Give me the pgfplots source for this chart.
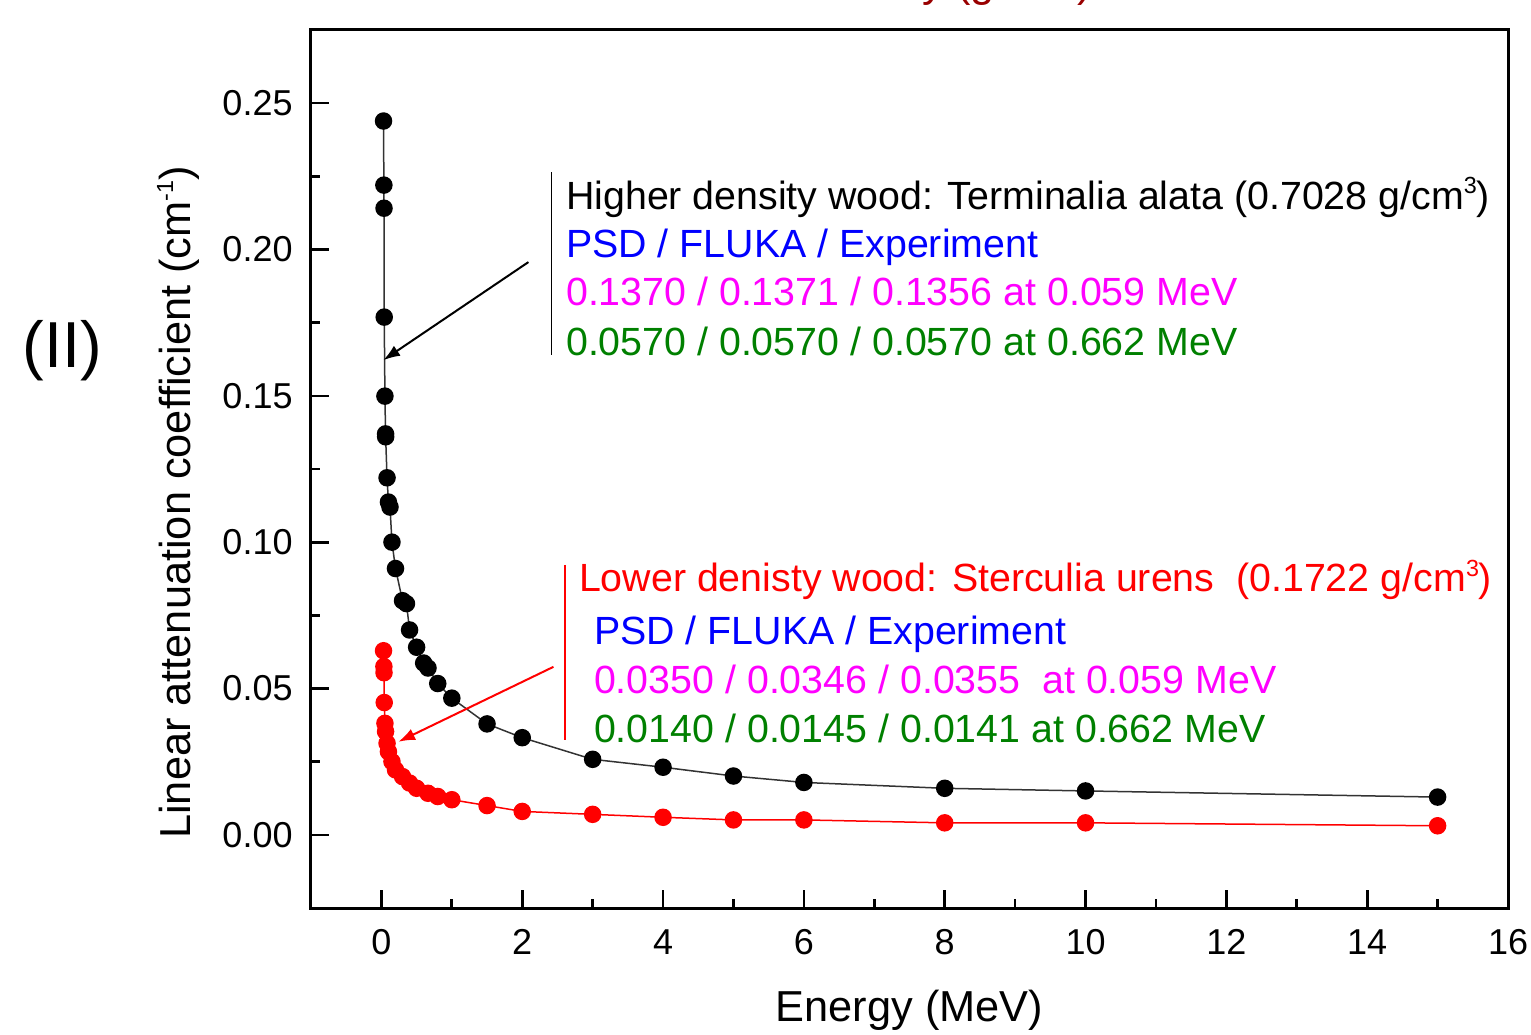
\documentclass[border=0pt]{standalone}
\usepackage{pgfplots}
\pgfplotsset{compat=1.18}
\usetikzlibrary{arrows.meta}
\usepackage{fontspec}
\setmainfont{Liberation Sans}
\definecolor{darkred}{HTML}{990000}
\definecolor{mygreen}{HTML}{008000}
\definecolor{mymagenta}{HTML}{FF00FF}
\definecolor{myblue}{HTML}{0000FF}
\definecolor{myred}{HTML}{FF0000}
\definecolor{linegray}{HTML}{333333}
\newcommand{\sups}[1]{\raisebox{0.75ex}{\fontsize{7}{8}\selectfont #1}}

\begin{document}
\begin{tikzpicture}
\begin{axis}[
  scale only axis, width=359.1pt, height=263.4pt,
  xmin=-1, xmax=16, ymin=-0.025, ymax=0.275,
  xtick={0,2,...,16}, ytick={0,0.05,0.1,0.15,0.2,0.25},
  minor x tick num=1, minor y tick num=1,
  tick align=inside, tick pos=left,
  major tick length=5.4pt, minor tick length=2.7pt,
  axis line style={line width=0.9pt},
  every tick/.style={black, line width=0.8pt},
  /pgf/number format/assume math mode=true,
  ticklabel style={font=\fontsize{10.8}{12}\selectfont},
  yticklabel style={xshift=-2pt, /pgf/number format/.cd, fixed, fixed zerofill, precision=2},
  xticklabel style={yshift=-3pt},
  scaled y ticks=false,
  xlabel={Energy (MeV)},
  ylabel={Linear attenuation coefficient (cm\sups{-1})},
  label style={font=\fontsize{13}{15}\selectfont},
  xlabel style={at={(axis description cs:0.5,-0.116)}, anchor=center},
  ylabel style={at={(axis description cs:-0.111,0.462)}, anchor=center},
  clip=false,
]
\addplot[linegray, line width=0.45pt, mark=*, mark size=2.4pt, mark options={fill=black, draw=black}] table {
x y
0.03 0.2439
0.035 0.2220
0.037 0.2141
0.04 0.1769
0.05 0.1499
0.059 0.1370
0.06 0.1360
0.08 0.1220
0.1 0.1137
0.122 0.1120
0.15 0.1000
0.2 0.0910
0.3 0.0800
0.356 0.0790
0.4 0.0700
0.5 0.0641
0.6 0.0587
0.662 0.0570
0.8 0.0517
1.0 0.0467
1.5 0.0379
2.0 0.0332
3.0 0.0258
4.0 0.0231
5.0 0.0201
6.0 0.0179
8.0 0.0159
10.0 0.0150
15.0 0.0129
};
\addplot[myred, line width=0.45pt, mark=*, mark size=2.4pt, mark options={fill=myred, draw=myred}] table {
x y
0.03 0.0629
0.035 0.0575
0.037 0.0554
0.04 0.0452
0.05 0.0381
0.059 0.0353
0.08 0.0313
0.1 0.0284
0.15 0.0250
0.2 0.0222
0.3 0.0199
0.4 0.0177
0.5 0.0159
0.662 0.0142
0.8 0.0131
1.0 0.0120
1.5 0.0100
2.0 0.0080
3.0 0.0070
4.0 0.0060
5.0 0.0051
6.0 0.0051
8.0 0.0041
10.0 0.0041
15.0 0.0031
};
\coordinate (SW) at (rel axis cs:0,0);
\coordinate (NE) at (rel axis cs:1,1);
% upper annotation
\draw[black, line width=0.5pt] (axis cs:2.415,0.2264) -- (axis cs:2.415,0.1639);
\begin{scope}[every node/.style={anchor=base west, inner sep=0pt, font=\fontsize{11.8}{14}\selectfont}]
\node[text=black] at (axis cs:2.614,0.2138) {Higher density wood: Terminalia alata (0.7028 g/cm\sups{3})};
\node[text=myblue] at (axis cs:2.614,0.1971) {PSD / FLUKA / Experiment};
\node[text=mymagenta] at (axis cs:2.614,0.1807) {0.1370 / 0.1371 / 0.1356 at 0.059 MeV};
\node[text=mygreen] at (axis cs:2.614,0.1639) {0.0570 / 0.0570 / 0.0570 at 0.662 MeV};
\node[text=myred] at (axis cs:2.798,0.0830) {Lower denisty wood: Sterculia urens\ \ (0.1722 g/cm\sups{3})};
\node[text=myblue] at (axis cs:3.011,0.0649) {PSD / FLUKA / Experiment};
\node[text=mymagenta] at (axis cs:3.011,0.0482) {0.0350 / 0.0346 / 0.0355\ \ at 0.059 MeV};
\node[text=mygreen] at (axis cs:3.011,0.0314) {0.0140 / 0.0145 / 0.0141 at 0.662 MeV};
\end{scope}
\draw[black, line width=0.6pt, -{Latex[length=5pt,width=3.6pt]}] (axis cs:2.088,0.1957) -- (axis cs:0.028,0.1622);
\draw[myred, line width=0.6pt] (axis cs:2.614,0.0922) -- (axis cs:2.614,0.0324);
\draw[myred, line width=0.6pt, -{Latex[length=5pt,width=3.6pt]}] (axis cs:2.443,0.0574) -- (axis cs:0.241,0.0318);
\node[font=\fontsize{19.5}{23}\selectfont] at (axis cs:-4.53,0.1656) {(II)};
\node[anchor=base east, inner sep=0pt, text=darkred, font=\fontsize{13}{15}\selectfont] at (axis cs:10.1,0.2866) {Density (g/cm\sups{3})};
\end{axis}
\pgfresetboundingbox
\path[use as bounding box] ([shift={(-93.3pt,-37.8pt)}]SW) rectangle ([shift={(6.9pt,9pt)}]NE);
\end{tikzpicture}
\end{document}
